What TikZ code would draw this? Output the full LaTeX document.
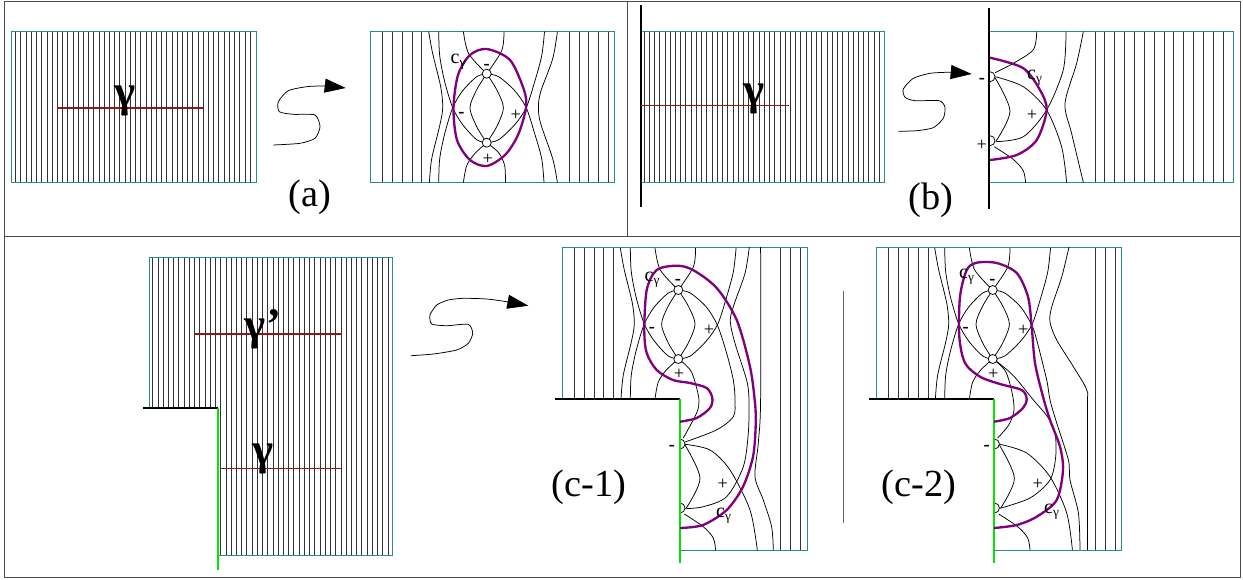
\documentclass[tikz,border=0pt]{standalone}
\usepackage{fontspec}
\setmainfont{Liberation Serif}
\usetikzlibrary{arrows.meta}
\definecolor{frameteal}{RGB}{40,140,140}
\definecolor{arcred}{RGB}{140,25,25}
\definecolor{curvepurple}{RGB}{128,0,128}
\definecolor{edgegreen}{RGB}{0,230,0}
\tikzset{
  panelbox/.style={black!70,line width=0.6pt},
  leaf/.style={black!80,line width=0.5pt},
  strand/.style={black,line width=0.45pt},
  holder/.style={frameteal,line width=0.6pt},
  arcline/.style={arcred,line width=0.9pt},
  capcurve/.style={curvepurple,line width=1.4pt},
  wall/.style={black,line width=1.4pt},
  greenwall/.style={edgegreen,line width=1.3pt},
  vertexmark/.style={black,fill=white,line width=0.45pt},
  swoop/.style={black,line width=0.45pt,-{Triangle[length=12.6pt,width=8.4pt]}},
  signlabel/.style={inner sep=0pt,font=\fontsize{11}{11}\selectfont},
  barlabel/.style={inner sep=0pt,font=\fontsize{11}{11}\selectfont\bfseries},
  caplabel/.style={inner sep=0pt,font=\fontsize{12}{12}\selectfont},
  arclabel/.style={inner sep=0pt,font=\fontsize{27}{27}\selectfont\bfseries},
  partlabel/.style={inner sep=0pt,font=\fontsize{23}{23}\selectfont},
}
\newcommand{\eyecore}{
        \draw[strand] plot[smooth] coordinates {(0,0) (-10,3) (-24,17) (-34,34) (-42,60) (-47,85) (-48,108.7)};
        \draw[strand] plot[smooth] coordinates {(0,69) (-10,66) (-24,51) (-34,34) (-42,8) (-47,-18) (-48,-42)};
        \draw[strand] plot[smooth] coordinates {(-58,-42) (-54,-20) (-46,13) (-44,34) (-47,52) (-55,85) (-57.3,108.7)};
        \draw[strand] plot[smooth] coordinates {(0,0) (-10,16) (-16.7,34) (-10,53) (0,69)};
        \draw[strand] plot[smooth] coordinates {(0,0) (10,16) (16.7,34) (10,53) (0,69)};
        \draw[strand] plot[smooth] coordinates {(-23.3,-42) (-18,-20) (0,0)};
        \draw[strand] plot[smooth] coordinates {(17.3,-42) (15,-23) (0,0)};
        \draw[strand] plot[smooth] coordinates {(0,69) (12,66) (28,51) (39.5,34) (48,8) (55,-18) (57.8,-42)};
        \draw[strand] plot[smooth] coordinates {(0,69) (-12,80) (-20,92) (-23.3,108.7)};
}
\newcommand{\eyepoints}{
        \draw[vertexmark] (0,0) circle (4.5);
        \draw[vertexmark] (0,69) circle (4.5);
}
\newcommand{\halfcore}{
        \draw[strand] plot[smooth] coordinates {(6.7,155) (21.7,188.3) (8,218)};
        \draw[strand] plot[smooth] coordinates {(6,224) (25,236.7) (35,248) (37.3,260)};
}
\newcommand{\halfpoints}{
        \draw[vertexmark] (1.7,149) arc (-90:90:5);
        \draw[vertexmark] (1.7,213) arc (-90:90:5);
}
\begin{document}
\begin{tikzpicture}[x=0.6pt,y=-0.6pt]
        \useasboundingbox (0,0) rectangle (1243,579);
        \draw[panelbox] (4.5,1) rectangle (1240.3,577.5);
        \draw[panelbox] (4.5,236.7) -- (1240.3,236.7);
        \draw[panelbox] (627,1) -- (627,236.7);
        \draw[black!60,line width=0.5pt] (843,291) -- (843,523);

        \foreach \i in {0,...,45} \draw[leaf] ({15.7+5.21*\i},31.7) -- ({15.7+5.21*\i},182.3);
        \draw[holder] (11.7,31.7) rectangle (256,182.3);
        \draw[arcline] (57,108) -- (203,108);
        \node[arclabel] (gammaA) at (125,101) {γ};
        \draw[swoop] plot[smooth,tension=0.4] coordinates {(273.3,145) (300,143.3) (315,138.3) (320,126.7) (315,115) (293.3,114.3) (279.3,111.7) (278.3,101.7) (288.3,90.7) (306.7,86.7) (325,86) (345.7,88)};
        \node[partlabel] (partA) at (310,197) {(a)};

        \foreach \x in {382.7,392.4,402.2,412,421.8,569.3,579,588.8,598.6,608.3} \draw[leaf] (\x,31.7) -- (\x,182.3);
        \draw[holder] (370,31.7) rectangle (614.3,182.3);
        \begin{scope}[shift={(486.7,73.7)}]
        \eyecore
        \draw[strand] plot[smooth] coordinates {(0,0) (12,3) (28,17) (39.5,34) (48,60) (55,85) (57.3,108.7)};
        \draw[strand] plot[smooth] coordinates {(70.7,-42) (66,-15) (54,18) (51.7,34) (54,50) (66,85) (70.7,108.7)};
        \draw[strand] plot[smooth] coordinates {(0,69) (12,79) (18,92) (18.7,108.7)};
        \eyepoints
        \end{scope}
        \draw[capcurve] plot[smooth cycle] coordinates {(486.7,49) (510,60) (524,90) (526,108) (518,135) (505,155) (486.7,166) (470,160) (457,140) (453.5,108) (458,75) (470,55)};
        \node[caplabel] (capA) at (458.5,62) {c\textsubscript{γ}};
        \node[barlabel] (topA) at (486.7,67) {-};
        \node[barlabel] (leftA) at (461.3,115) {-};
        \node[signlabel] (rightA) at (515.7,115) {+};
        \node[signlabel] (lowA) at (487.7,159) {+};

        \foreach \i in {0,...,45} \draw[leaf] ({644+5.23*\i},31.7) -- ({644+5.23*\i},182.3);
        \draw[holder] (641,31.7) rectangle (884.7,182.3);
        \draw[wall] (641,5) -- (641,207);
        \draw[arcline] (641,105.3) -- (789.3,105.3);
        \node[arclabel] (gammaB) at (754,99) {γ};
        \draw[swoop] plot[smooth,tension=0.4] coordinates {(898.3,131.3) (916.7,130.7) (933.3,127.7) (943.3,118.3) (945,107.3) (939.3,100.7) (915,100.7) (905,97.3) (903.3,89) (913.3,78.3) (930,73.3) (950,72.3) (971.7,74)};
        \node[partlabel] (partB) at (931,200) {(b)};

        \foreach \i in {0,...,13} \draw[leaf] ({1095+9.85*\i},31.7) -- ({1095+9.85*\i},182.3);
        \draw[holder] (989,31.7) -- (1233.7,31.7) -- (1233.7,182.3) -- (989,182.3);
        \begin{scope}[shift={(988.3,-77.3)}]
        \draw[strand] plot[smooth] coordinates {(48.4,109) (45,127) (25,140.6) (6.7,150)};
        \draw[strand] plot[smooth] coordinates {(7,154) (35,164) (58.3,187.3) (73.3,224) (78.3,259.6)};
        \draw[strand] plot[smooth] coordinates {(7,219) (35,214) (58.3,187.3) (75,147) (77.7,109)};
        \draw[strand] plot[smooth] coordinates {(95,109) (88.3,140.7) (76.7,180.7) (83.3,210.7) (95,259.6)};
        \halfcore
        \halfpoints
        \end{scope}
        \draw[wall] (989,8) -- (989,209);
        \draw[capcurve] plot[smooth] coordinates {(990,57.7) (1023,68) (1040,90) (1046.7,110) (1036.7,140) (1016.7,155) (990,160)};
        \node[caplabel] (capB) at (1035,78) {c\textsubscript{γ}};
        \node[barlabel] (topB) at (982,80.5) {-};
        \node[signlabel] (rightB) at (1032,115.5) {+};
        \node[signlabel] (lowB) at (981.7,145) {+};

        \foreach \i in {0,...,12} \draw[leaf] ({152.7+5.23*\i},257.3) -- ({152.7+5.23*\i},407.7);
        \foreach \i in {13,...,45} \draw[leaf] ({152.7+5.23*\i},257.3) -- ({152.7+5.23*\i},555.3);
        \draw[holder] (149,407.7) -- (149,257.3) -- (392.7,257.3) -- (392.7,555.3) -- (218.3,555.3);
        \draw[wall] (143.3,407.7) -- (218,407.7);
        \draw[greenwall] (218.3,407.7) -- (218.3,570);
        \draw[arcline] (194.3,334) -- (342,334);
        \draw[arcline] (220,468.3) -- (340.7,468.3);
        \node[arclabel] (gammaUp) at (263,329) {γ'};
        \node[arclabel] (gammaLow) at (263,458.5) {γ};
        \draw[swoop] plot[smooth,tension=0.4] coordinates {(411,355.7) (433.3,354) (456.7,350) (468.3,343.3) (472.7,333.3) (468.3,324.3) (446.7,325.7) (431.7,324) (430,315) (436.7,305) (448.3,300) (463.3,298.3) (486.7,299) (506.7,301.7) (528.3,305.7)};
        \node[partlabel] (partCa) at (589,487) {(c-1)};

        \foreach \x in {574,584,594,603.7,613.7} \draw[leaf] (\x,247) -- (\x,399);
        \foreach \x in {780.3,790.3,800.3} \draw[leaf] (\x,247) -- (\x,550);
        \draw[holder] (562,399) -- (562,247) -- (807.3,247) -- (807.3,550) -- (680,550);
        \begin{scope}[shift={(678.3,290)}]
        \eyecore
        \draw[strand] plot[smooth] coordinates {(0,68.3) (12,80) (17,93) (20.7,110) (18.3,123) (5,148)};
        \draw[strand] plot[smooth] coordinates {(0,0) (12,3) (28,17) (39,35) (48,62) (55,90) (56.7,110) (55,126.7) (38,140) (6.7,152)};
        \draw[strand] plot[smooth] coordinates {(71,-43) (66.7,-16.7) (55,16.7) (52,31.7) (56.7,53.3) (68.3,90) (70.7,110) (70,143) (65,176.7) (48.3,206.7) (25,216.7) (6.7,218.7)};
        \draw[strand] plot[smooth] coordinates {(6.7,154.3) (31.7,160) (51.7,180) (71.7,220) (79,260)};
        \draw[strand] plot[smooth] coordinates {(82.3,-43) (82.3,110) (80,153) (76.7,186.7) (85,210) (93.3,236.7) (95,260)};
        \halfcore
        \eyepoints
        \halfpoints
        \end{scope}
        \draw[wall] (555,399) -- (680,399);
        \draw[greenwall] (680,399) -- (680,563);
        \draw[capcurve] plot[smooth] coordinates {(680,421.7) (696.7,418) (710,408) (712.3,398) (706.7,388) (690,383) (673,380) (656.7,370) (646.7,353) (644.3,330) (646.7,290) (656.7,270) (676.7,265.7) (693,270) (716.7,288) (736.7,320) (750,366.7) (755,403) (755.7,425) (753,456.7) (743,486.7) (726.7,510) (703,525) (680,528)};
        \node[caplabel] (capCa) at (652.5,280) {c\textsubscript{γ}};
        \node[barlabel] (topCa) at (678,282) {-};
        \node[barlabel] (leftCa) at (652,330) {-};
        \node[signlabel] (rightCa) at (709,330.7) {+};
        \node[signlabel] (lowCa) at (679,374.7) {+};
        \node[barlabel] (edgeCa) at (672,448) {-};
        \node[signlabel] (midCa) at (722.7,484) {+};
        \node[caplabel] (capCb) at (724,516) {c\textsubscript{γ}};

        \node[partlabel] (partCb) at (919,487) {(c-2)};
        \foreach \x in {888.7,898.7,908.7,918.3,928.3} \draw[leaf] (\x,247) -- (\x,399);
        \foreach \x in {1095,1105,1115} \draw[leaf] (\x,247) -- (\x,550);
        \draw[holder] (876.7,399) -- (876.7,247) -- (1121.7,247) -- (1121.7,550) -- (994,550);
        \begin{scope}[shift={(992.7,290)}]
        \eyecore
        \draw[strand] plot[smooth] coordinates {(0,68.3) (12,80) (17,93) (20.7,110) (21,122) (16,135) (5,148)};
        \draw[strand] plot[smooth] coordinates {(0,68.3) (20,85) (40.7,110) (55,127) (62.3,143) (63,166.7) (57.3,190) (37.3,208) (7.3,218.3)};
        \draw[strand] plot[smooth] coordinates {(0,0) (12,3) (28,17) (39,35) (44,50) (54,90) (57.3,110) (64,133) (75.7,170) (77.3,190) (85.7,223) (87.3,260)};
        \draw[strand] plot[smooth] coordinates {(7.3,154.3) (34,163) (57.3,186.7) (74,223) (79.7,260)};
        \draw[strand] plot[smooth] coordinates {(76.3,-43) (69,-13) (59,17) (57.3,32) (64,50) (80.7,76.7) (94,100) (94.7,120) (94.7,260)};
        \halfcore
        \eyepoints
        \halfpoints
        \end{scope}
        \draw[wall] (869,399) -- (994,399);
        \draw[greenwall] (994,399) -- (994,563);
        \draw[capcurve] plot[smooth] coordinates {(994,421.7) (1010,418) (1023,408) (1026.7,399) (1021.7,390) (1000,384) (980,376.7) (965,363) (959.3,336.7) (960,296.7) (966.7,270) (976.7,262.7) (996.7,263) (1016.7,273) (1028,296.7) (1031.7,326.7) (1035,363) (1043,396.7) (1050,420) (1060,446.7) (1063,470) (1056.7,500) (1036.7,516.7) (1016.7,525) (994,528)};
        \node[caplabel] (capCc) at (967,277) {c\textsubscript{γ}};
        \node[barlabel] (topCb) at (992.3,282) {-};
        \node[barlabel] (leftCb) at (965.7,330) {-};
        \node[signlabel] (rightCb) at (1023.3,330.7) {+};
        \node[signlabel] (lowCb) at (993.3,374.7) {+};
        \node[barlabel] (edgeCb) at (986.7,448) {-};
        \node[signlabel] (midCb) at (1037.7,484) {+};
        \node[caplabel] (capCd) at (1052,511.7) {c\textsubscript{γ}};
\end{tikzpicture}
\end{document}
